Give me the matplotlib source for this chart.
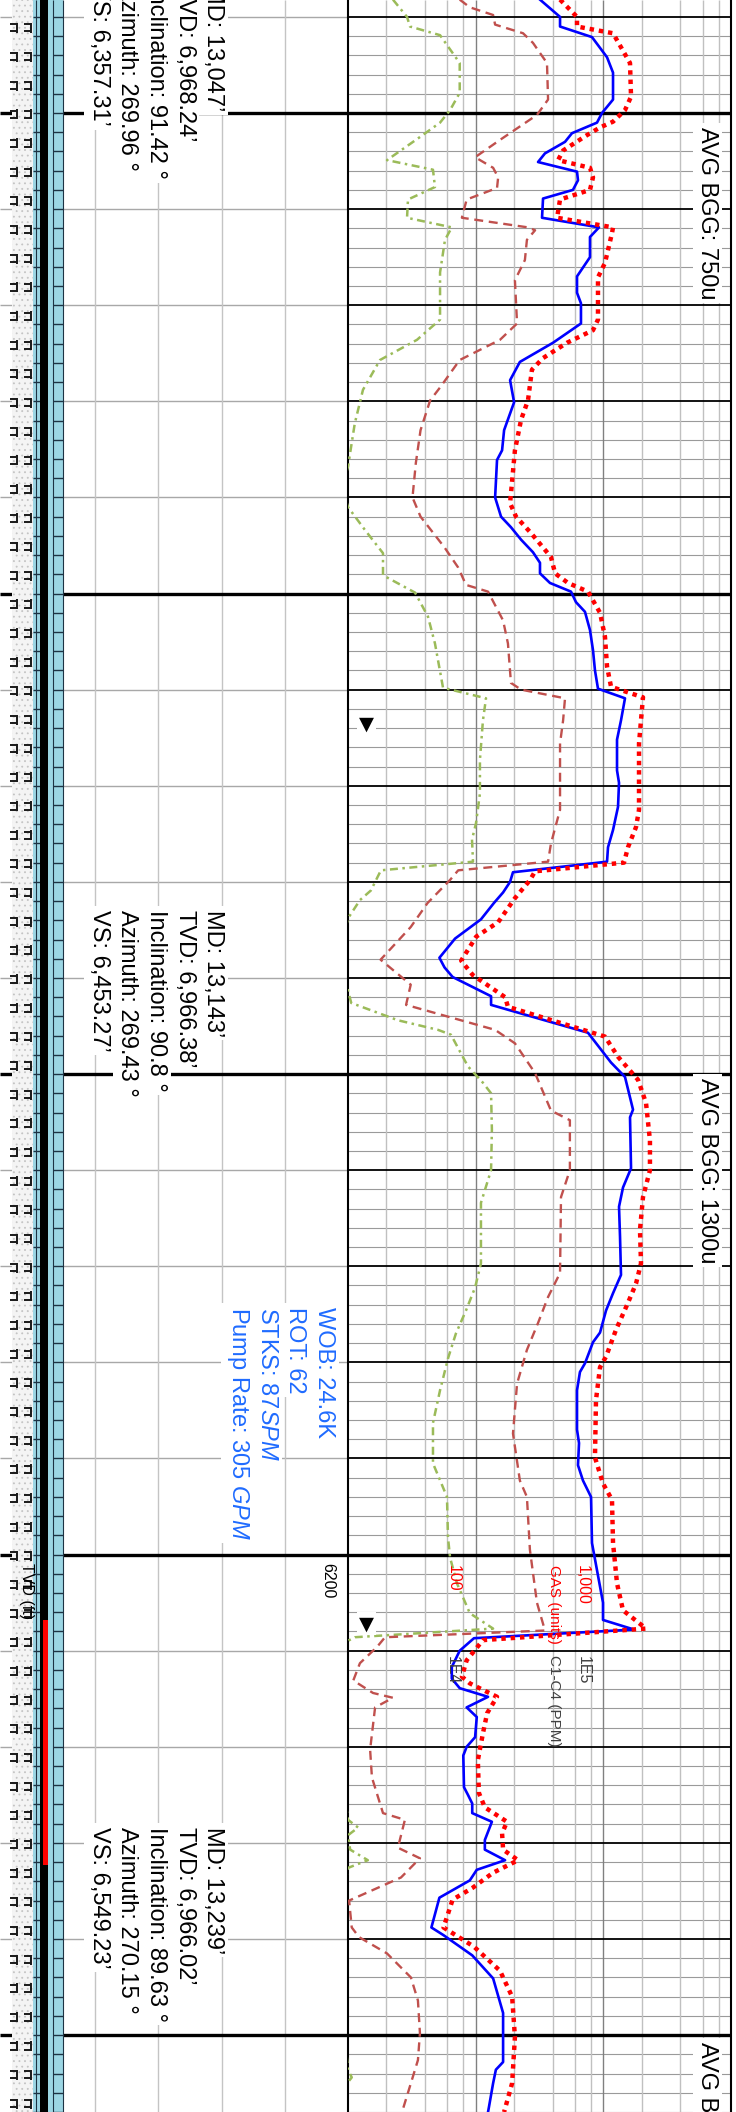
import numpy as np
import matplotlib
matplotlib.use('Agg')
import matplotlib.pyplot as plt
from matplotlib.patches import Rectangle
from matplotlib.collections import LineCollection
from matplotlib.ticker import NullLocator
from matplotlib.transforms import blended_transform_factory

plt.rcParams['font.family'] = ['Liberation Sans', 'DejaVu Sans']
plt.rcParams['mathtext.fontset'] = 'custom'
plt.rcParams['mathtext.rm'] = 'Liberation Sans'
plt.rcParams['mathtext.it'] = 'Liberation Sans:italic'
plt.rcParams['hatch.linewidth'] = 0.6

# ---- curve data (depth in ft, gas in units, log track 10..10000) ----
blue_depth = [6038.2, 6040.0, 6041.0, 6042.1, 6044.2, 6045.8, 6048.6, 6050.0, 6051.0, 6052.1,
              6053.0, 6054.2, 6055.1, 6056.1, 6057.0, 6058.0, 6058.9, 6060.9, 6061.9, 6062.9,
              6065.0, 6067.0, 6068.7, 6069.8, 6071.9, 6073.9, 6075.9, 6077.8, 6080.1, 6083.0,
              6085.1, 6086.1, 6090.0, 6092.0, 6093.1, 6094.4, 6095.7, 6096.8, 6097.9, 6098.9,
              6099.8, 6100.9, 6101.9, 6103.8, 6105.9, 6108.0, 6109.9, 6110.9, 6113.2, 6115.2,
              6118.4, 6119.7, 6122.2, 6124.6, 6126.4, 6127.9, 6129.0, 6130.0, 6131.1, 6132.2,
              6133.9, 6135.9, 6137.9, 6138.9, 6139.9, 6141.9, 6142.8, 6145.7, 6148.8, 6150.3,
              6153.7, 6154.5, 6159.8, 6161.8, 6163.8, 6166.9, 6170.9, 6172.8, 6174.6, 6176.9,
              6177.9, 6180.1, 6181.0, 6182.9, 6187.0, 6188.4, 6190.7, 6192.3, 6194.0, 6198.8,
              6205.0, 6206.8, 6207.8, 6208.7, 6210.0, 6211.7, 6212.9, 6213.9, 6214.8, 6215.9,
              6216.9, 6219.0, 6220.0, 6220.9, 6224.2, 6225.0, 6225.9, 6226.9, 6227.8, 6229.7,
              6230.7, 6231.8, 6232.8, 6233.9, 6235.7, 6238.8, 6239.6, 6241.7, 6244.1, 6247.7,
              6252.8, 6253.6, 6255.0, 6257.5, 6258.0]
blue_gas = [319, 458, 458, 815, 1069, 1191, 1191, 976, 892, 568,
            501, 349, 308, 622, 633, 578, 337, 331, 925, 786,
            786, 622, 622, 668, 668, 404, 222, 186, 200, 167,
            161, 147, 142, 158, 189, 227, 281, 319, 319, 382,
            558, 611, 718, 786, 830, 860, 908, 1478, 1375, 1280,
            1280, 1327, 1303, 1191, 1088, 1069, 196, 186, 164, 139,
            110, 69, 52, 57, 66, 132, 132, 758, 1149, 1478,
            1708, 1618, 1648, 1426, 1327, 1351, 1375, 1191, 1050, 942,
            830, 718, 656, 622, 622, 645, 633, 693, 801, 815,
            994, 994, 1740, 97, 75, 65, 65, 75, 125, 85,
            102, 99, 85, 80, 81, 87, 94, 94, 134, 118,
            118, 170, 102, 90, 52, 45, 56, 94, 137, 164,
            164, 144, 137, 127, 125]

red_depth = [6038.2, 6040.0, 6041.0, 6041.7, 6044.8, 6048.3, 6049.7, 6050.9, 6051.5, 6052.3,
             6053.9, 6054.9, 6055.7, 6056.7, 6058.0, 6059.0, 6060.9, 6061.9, 6062.5, 6065.6,
             6067.1, 6071.5, 6072.6, 6073.9, 6075.5, 6076.7, 6079.9, 6081.9, 6085.1, 6090.6,
             6092.0, 6093.7, 6096.2, 6097.9, 6098.9, 6099.8, 6102.0, 6104.5, 6107.6, 6109.7,
             6110.8, 6113.2, 6115.6, 6122.5, 6124.3, 6126.4, 6128.0, 6128.9, 6129.8, 6131.7,
             6134.2, 6135.7, 6138.2, 6139.7, 6142.0, 6143.0, 6146.1, 6148.2, 6150.6, 6153.0,
             6156.9, 6160.0, 6162.8, 6166.2, 6169.7, 6171.8, 6173.8, 6176.6, 6179.4, 6180.5,
             6183.9, 6189.9, 6192.6, 6194.3, 6198.8, 6203.0, 6205.8, 6207.7, 6208.9, 6211.0,
             6212.7, 6213.4, 6214.8, 6216.5, 6218.6, 6221.4, 6224.8, 6226.3, 6227.8, 6229.0,
             6230.7, 6231.8, 6233.1, 6234.7, 6235.9, 6238.8, 6240.8, 6243.3, 6246.0, 6250.2,
             6255.0, 6258.0]
red_gas = [458, 622, 622, 1191, 1618, 1648, 1478, 1191, 942, 745,
           484, 442, 786, 830, 786, 458, 434, 1191, 1169, 1030,
           908, 908, 830, 520, 337, 276, 257, 227, 203, 186,
           207, 271, 389, 419, 529, 758, 942, 1030, 1069, 1149,
           2045, 1972, 1903, 1903, 1803, 1560, 1452, 292, 267, 203,
           150, 101, 77, 95, 170, 179, 1030, 1303, 1869, 2159,
           2318, 2318, 2045, 1937, 1972, 1803, 1560, 1257, 1050, 942,
           876, 860, 994, 1169, 1191, 1280, 1426, 2159, 114, 85,
           78, 90, 147, 123, 114, 104, 106, 118, 176, 161,
           164, 215, 137, 94, 66, 56, 97, 155, 193, 203,
           193, 167]

brown_depth = [6038.2, 6039.0, 6039.8, 6040.8, 6041.7, 6042.7, 6044.8, 6048.6, 6050.2, 6052.8,
               6054.6, 6055.7, 6056.7, 6057.8, 6059.0, 6060.9, 6061.9, 6062.2, 6063.2, 6065.3,
               6067.4, 6071.9, 6073.6, 6075.7, 6078.5, 6079.9, 6083.0, 6086.4, 6090.0, 6092.0,
               6095.2, 6097.3, 6099.1, 6099.8, 6102.8, 6105.2, 6109.3, 6110.0, 6110.9, 6113.2,
               6115.6, 6122.5, 6126.0, 6127.9, 6128.8, 6129.8, 6132.2, 6134.7, 6138.1, 6140.7,
               6142.8, 6145.4, 6146.8, 6149.9, 6153.8, 6154.8, 6160.0, 6162.8, 6170.7, 6173.2,
               6175.9, 6178.7, 6182.2, 6187.4, 6192.3, 6194.0, 6199.5, 6205.0, 6207.9, 6208.6,
               6209.6, 6211.3, 6213.1, 6214.4, 6214.9, 6215.9, 6220.3, 6223.2, 6226.9, 6227.6,
               6230.5, 6231.6, 6233.6, 6236.0, 6238.8, 6239.8, 6241.5, 6244.0, 6246.4, 6249.8,
               6252.6, 6255.0, 6258.0]
brown_gas = [75, 90, 137, 142, 235, 281, 362, 369, 302, 155,
             99, 137, 150, 147, 85, 78, 257, 292, 252, 243,
             203, 211, 155, 75, 53, 44, 37, 34, 32, 37,
             57, 73, 84, 125, 164, 179, 189, 227, 501, 484,
             458, 458, 389, 369, 73, 63, 42, 31, 18, 31,
             28.5, 142, 203, 292, 389, 547, 547, 466, 458, 369,
             308, 252, 211, 196, 222, 252, 266, 302, 349, 19.5,
             16.9, 12.4, 11, 15.7, 22.5, 16.3, 14.9, 15.4, 18.8, 27.9,
             24.6, 36.6, 26, 10.2, 10.7, 12.2, 20.2, 31.1, 35.3, 36.6,
             35.3, 31.1, 26.5]

green_depth = [6038.2, 6040.0, 6041.0, 6041.9, 6044.8, 6047.9, 6049.7, 6051.0, 6052.5, 6054.9,
               6055.9, 6057.7, 6059.0, 6060.9, 6061.9, 6063.2, 6066.6, 6071.5, 6073.6, 6075.7,
               6078.8, 6082.3, 6086.8, 6088.9, 6091.0, 6093.4, 6095.8, 6098.1, 6099.9, 6102.4,
               6105.2, 6109.8, 6110.9, 6113.2, 6117.3, 6120.8, 6123.9, 6125.6, 6127.9, 6128.8,
               6130.9, 6131.9, 6133.8, 6137.5, 6141.3, 6142.6, 6144.4, 6145.4, 6145.9, 6149.2,
               6150.9, 6152.0, 6155.8, 6160.0, 6163.4, 6169.7, 6172.2, 6174.6, 6177.0, 6179.5,
               6182.9, 6186.3, 6190.5, 6194.0, 6198.2, 6200.3, 6203.0, 6206.1, 6207.7, 6208.6,
               6209.1, 6218.0, 6227.6, 6228.4, 6229.2, 6230.7, 6231.8, 6232.6, 6240.0, 6253.6,
               6254.4, 6255.2, 6258.0]
green_gas = [22.5, 29, 30.6, 52.6, 75, 75, 63, 52.6, 36.6, 20.2,
             46.3, 48, 29.5, 29, 65, 57.5, 52.6, 52.6, 34.7, 17.8,
             13.1, 11.3, 10, 9, 10, 13.6, 18.8, 18.8, 33.5, 42.3,
             48, 55.5, 120.5, 114, 108, 108, 100.6, 93.6, 95.3, 18.1,
             15.1, 12.4, 10, 8.5, 10, 10.6, 24.6, 50.7, 64, 87,
             114, 132, 134, 132, 110, 110, 99, 84, 70, 61,
             52.6, 46.3, 46.3, 59.6, 60.7, 63, 71.4, 90, 137, 11.3,
             9.6, 8, 10, 12, 10, 10.4, 14.3, 10, 8, 10,
             10.7, 9.6, 8]

# ---- annotations ----
survey_depth = [6036.6, 6132.9, 6228.3]
survey_md = ['13,047', '13,143', '13,239']
survey_tvd = ['6,968.24', '6,966.38', '6,966.02']
survey_inc = ['91.42', '90.8', '89.63']
survey_azi = ['269.96', '269.43', '270.15']
survey_vs = ['6,357.31', '6,453.27', '6,549.23']

bgg_depth = [6051.45, 6150.4, 6250.7]
bgg_label = ['750u', '1300u', '1300u']

drill_depth = 6174.2
drill_lines = ['WOB: 24.6K', 'ROT: 62', r'STKS: 87$\mathit{SPM}$', r'Pump Rate: 305 $\mathit{GPM}$']

marker_depth = [6113.6, 6207.2]
red_bar = [6206.8, 6232.3]

# ---- figure ----
W, H = 736, 2112
d_top, d_bot = 6038.24, 6258.0
px = (d_bot - d_top) / H

fig = plt.figure(figsize=(W / 100, H / 100), dpi=100)
bg = fig.add_axes([0, 0, 1, 1])
bg.set_xlim(0, W)
bg.set_ylim(d_bot, d_top)
bg.axis('off')

ten = np.arange(6040, 6260, 10)
fifty = ten[ten % 50 == 0]
thin = ten[ten % 50 != 0]
two = np.arange(6040, 6260, 2)
minor = two[two % 10 != 0]

# left track grid
bg.hlines(thin, 0, 348, color='#a8a8a8', lw=1.0, zorder=1)
bg.vlines([95, 158, 222, 285], d_top, d_bot, color='#c4c4c4', lw=1.0, zorder=1)
bg.hlines(fifty, 0, 348, color='black', lw=2.4, zorder=2)

# lithology column
bg.add_patch(Rectangle((12, d_top), 21, d_bot - d_top, facecolor='#f4f4f4',
                       edgecolor='#c4c4c4', hatch='...', lw=0, zorder=3))
rows = np.arange(d_top + 2.9, d_bot, 3.0)
segs = []
for c in (14, 28):
    for d in rows:
        segs.append([(c + 3, d - 5 * px), (c + 3, d + 5 * px)])
        segs.append([(c - 4, d - 3.5 * px), (c + 3, d - 3.5 * px)])
        segs.append([(c - 4, d + 3.5 * px), (c + 3, d + 3.5 * px)])
bg.add_collection(LineCollection(segs, colors='#1a1a1a', linewidths=1.4, zorder=4))

# cyan depth strip
bg.add_patch(Rectangle((33, d_top), 30, d_bot - d_top, facecolor='#9cd6e4', lw=0, zorder=3))
bg.vlines([36, 53, 62.5], d_top, d_bot, color='#1d3344', lw=0.8, zorder=4)
bg.hlines(two, 53, 63, color='#1d3344', lw=1.0, zorder=4)
bg.hlines(two, 33, 40, color='#1d3344', lw=1.0, zorder=4)
bg.add_patch(Rectangle((40, d_top), 8, d_bot - d_top, facecolor='black', lw=0, zorder=5))
bg.add_patch(Rectangle((43, red_bar[0]), 5, red_bar[1] - red_bar[0], facecolor='red', lw=0, zorder=6))

box = dict(boxstyle='square,pad=0.15', facecolor='white', edgecolor='none')


def vtext(axis, x, d, s, size=17, color='black', bbox=box, transform=None):
    kw = {}
    if transform is not None:
        kw['transform'] = transform
    axis.text(x, d, s, rotation=-90, ha='center', va='top', fontsize=size,
              color=color, bbox=bbox, zorder=8, **kw)


line_x = 213.5 - 28.75 * np.arange(5)
for i in range(3):
    txt = ['MD: %s\u2019' % survey_md[i], 'TVD: %s\u2019' % survey_tvd[i],
           'Inclination: %s \u00b0' % survey_inc[i], 'Azimuth: %s \u00b0' % survey_azi[i],
           'VS: %s\u2019' % survey_vs[i]]
    for x, s in zip(line_x, txt):
        vtext(bg, x, survey_depth[i], s)

for x, s in zip([324, 295, 267, 238], drill_lines):
    vtext(bg, x, drill_depth, s, color='#1f6bff')

vtext(bg, 327.5, 6200.9, '6200', size=11.5, bbox=None)
vtext(bg, 26, 6200.9, 'TVD (ft)', size=11.5, bbox=None)

# right (gas) track
ax = fig.add_axes([348 / W, 0, 383 / W, 1])
ax.set_xscale('log')
ax.set_xlim(10, 10000)
ax.set_ylim(d_bot, d_top)
for a in (ax.xaxis, ax.yaxis):
    a.set_major_locator(NullLocator())
    a.set_minor_locator(NullLocator())
ax.spines['top'].set_visible(False)
ax.spines['bottom'].set_visible(False)
ax.spines['left'].set_linewidth(1.5)
ax.spines['right'].set_linewidth(1.5)

ax.hlines(minor, 10, 10000, color='#9a9a9a', lw=0.8, zorder=1)
ax.vlines([dec * m for dec in (10, 100, 1000) for m in (2, 4, 6, 8)], d_top, d_bot,
          color='#c0c0c0', lw=1.0, zorder=1)
ax.vlines([100, 1000], d_top, d_bot, color='#808080', lw=1.0, zorder=1.2)
ax.hlines(thin, 10, 10000, color='black', lw=1.3, zorder=1.5)
ax.hlines(fifty, 10, 10000, color='black', lw=2.4, zorder=1.6)

ax.plot(green_gas, green_depth, color='#9bbb59', lw=1.8, ls=(0, (3.2, 1.8, 1, 1.8)), zorder=3)
ax.plot(brown_gas, brown_depth, color='#c0504d', lw=1.7, ls=(0, (3.8, 2.4)), zorder=3)
ax.plot(blue_gas, blue_depth, color='#0000ff', lw=1.9, zorder=4)
ax.plot(red_gas, red_depth, color='#ff0000', lw=3.2, ls=(0, (1, 1.1)), zorder=5)

tr = blended_transform_factory(ax.transAxes, ax.transData)
for d, s in zip(bgg_depth, bgg_label):
    vtext(ax, 0.9386, d, 'AVG BGG: ' + s, transform=tr)

vtext(ax, 0.2755, 6201.1, '100', size=11.5, color='red', bbox=None, transform=tr)
vtext(ax, 0.612, 6201.1, '1,000', size=11.5, color='red', bbox=None, transform=tr)
vtext(ax, 0.538, 6201.1, 'GAS (units)', size=11, color='red', bbox=None, transform=tr)
vtext(ax, 0.272, 6210.5, '1E4', size=11.5, color='#404040', bbox=None, transform=tr)
vtext(ax, 0.615, 6210.5, '1E5', size=11.5, color='#404040', bbox=None, transform=tr)
vtext(ax, 0.538, 6210.4, 'C1-C4 (PPM)', size=11, color='#404040', bbox=None, transform=tr)

for d in marker_depth:
    ax.text(0.048, d, '\u25bc', transform=tr, ha='center', va='center', fontsize=14,
            family=['DejaVu Sans'], bbox=dict(boxstyle='square,pad=0.1', facecolor='white',
                                              edgecolor='none'), zorder=8)

fig.savefig('out.png', dpi=100)
